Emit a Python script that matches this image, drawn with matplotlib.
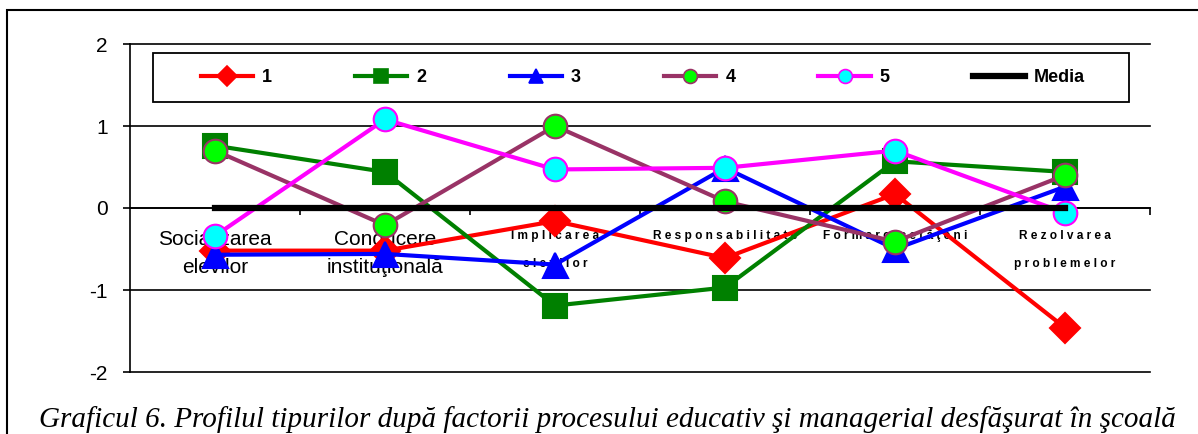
import matplotlib
matplotlib.use("Agg")
import matplotlib.pyplot as plt
from matplotlib.lines import Line2D
from matplotlib.patches import Rectangle
import numpy as np

plt.rcParams['font.family'] = ['Liberation Sans', 'DejaVu Sans']

categories_big = [["Socializarea", "elevilor"], ["Conducere", "instituţională"]]
categories_small = [["I m p l i c a r e a", "e l e v i l o r"],
                    ["R e s p o n s a b i l i t a t e"],
                    ["F o r m a r e   c e t ă ţ e n i"],
                    ["R e z o l v a r e a", "p r o b l e m e l o r"]]
categories = categories_big + categories_small

s1 = [-0.52, -0.52, -0.16, -0.61, 0.17, -1.46]
s2 = [0.76, 0.44, -1.19, -0.97, 0.57, 0.44]
s3 = [-0.57, -0.56, -0.69, 0.49, -0.50, 0.26]
s4 = [0.70, -0.21, 1.00, 0.08, -0.41, 0.40]
s5 = [-0.34, 1.08, 0.47, 0.49, 0.70, -0.06]
media = [0, 0, 0, 0, 0, 0]
legend_labels = ["1", "2", "3", "4", "5", "Media"]
yticks = [-2, -1, 0, 1, 2]

W, H = 1198, 434
fig = plt.figure(figsize=(W / 100, H / 100), dpi=100)
ax = fig.add_axes([130 / W, 1 - 372 / H, 1020 / W, 328 / H])

x = np.arange(len(categories))
styles = [
    dict(color='#FF0000', marker='D', mfc='#FF0000', mec='#FF0000', ms=15),
    dict(color='#008000', marker='s', mfc='#008000', mec='#008000', ms=17),
    dict(color='#0000FF', marker='^', mfc='#0000FF', mec='#0000FF', ms=18),
    dict(color='#993366', marker='o', mfc='#00FF00', mec='#993366', ms=17),
    dict(color='#FF00FF', marker='o', mfc='#00FFFF', mec='#FF00FF', ms=17),
]
series = [s1, s2, s3, s4, s5]
for i, (s, st) in enumerate(zip(series, styles)):
    ax.plot(x, s, lw=3, mew=1.5, zorder=3 + i, clip_on=False, **st)
ax.plot(x, media, color='black', lw=4.5, zorder=10, solid_capstyle='projecting')

ax.set_xlim(-0.5, len(categories) - 0.5)
ax.set_ylim(-2, 2)
for t in yticks:
    ax.axhline(t, color='black', lw=1.2, zorder=1, clip_on=False)
ax.set_yticks(yticks)
ax.set_yticklabels([str(t) for t in yticks], fontsize=15)
ax.tick_params(axis='y', direction='out', length=5, width=1.2, pad=11)

ax.spines['top'].set_visible(False)
ax.spines['right'].set_visible(False)
ax.spines['left'].set_linewidth(1.2)
ax.spines['bottom'].set_position(('data', 0))
ax.spines['bottom'].set_linewidth(1.2)
ax.set_xticks(x + 0.5)
ax.set_xticklabels([])
ax.tick_params(axis='x', direction='out', length=5, width=1.2)

# category labels
for i, lines in enumerate(categories):
    big = i < len(categories_big)
    offs = [-23, -43] if big else [-20, -40]
    for j, ln in enumerate(lines):
        if big:
            ax.annotate(ln, xy=(i, 0), xytext=(0, offs[j]), textcoords='offset points',
                        ha='center', va='center', fontsize=15, zorder=2)
        else:
            ax.annotate(ln, xy=(i, 0), xytext=(0, offs[j]), textcoords='offset points',
                        ha='center', va='center', fontsize=8.6, fontweight='bold', zorder=2)

# legend
handles = []
for st, lab in zip(styles, legend_labels[:5]):
    h = Line2D([], [], color=st['color'], marker=st['marker'], mfc=st['mfc'],
               mec=st['mec'], ms=10, lw=3, mew=1.2)
    handles.append(h)
handles.append(Line2D([], [], color='black', lw=4.5))
ax.add_patch(Rectangle((23 / 1020, (372 - 102) / 328), (1129 - 153) / 1020, 49 / 328,
                       transform=ax.transAxes, fill=True, facecolor='white',
                       edgecolor='black', lw=1.3, zorder=19, clip_on=False))
leg = ax.legend(handles, legend_labels, ncol=6, loc='center',
                bbox_to_anchor=((643 - 130) / 1020, (372 - 77.5) / 328),
                frameon=False, handlelength=2.9, handletextpad=0.5,
                columnspacing=4.6, prop={'size': 13, 'weight': 'bold'})
leg.set_zorder(20)

# caption
fig.text(607 / W, 1 - 420 / H,
         "Graficul 6. Profilul tipurilor după factorii procesului educativ şi managerial desfăşurat în şcoală",
         ha='center', va='center', fontsize=21, style='italic',
         family=['Liberation Serif', 'DejaVu Serif'])

# outer frame
fig.add_artist(Rectangle((7 / W, -0.5), 2, 1.5 - 10 / H + 0.0, transform=fig.transFigure,
                         fill=False, edgecolor='black', lw=1.5, clip_on=False))

fig.savefig("out.png", dpi=100)
